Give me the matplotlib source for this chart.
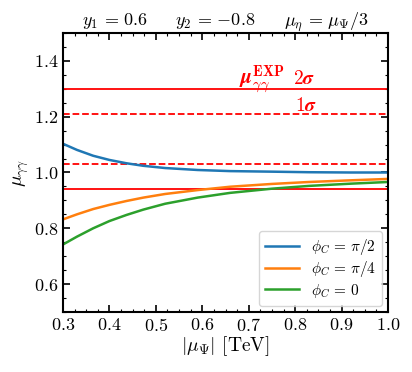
import numpy as np
import matplotlib
matplotlib.use("Agg")
import matplotlib.pyplot as plt
from matplotlib.ticker import MultipleLocator

plt.rcParams['font.family'] = 'serif'
plt.rcParams['font.serif'] = ['cmr10']
plt.rcParams['mathtext.fontset'] = 'cm'
plt.rcParams['axes.formatter.use_mathtext'] = True

# values
mu_psi = [0.30, 0.33, 0.365, 0.40, 0.437, 0.473, 0.52, 0.59, 0.66, 0.75, 0.83, 0.92, 1.00]
blue = [1.103, 1.081, 1.060, 1.045, 1.033, 1.024, 1.016, 1.009, 1.005, 1.003, 1.001, 1.000, 1.000]
orange = [0.832, 0.850, 0.869, 0.884, 0.898, 0.910, 0.923, 0.937, 0.949, 0.959, 0.966, 0.972, 0.977]
green = [0.742, 0.770, 0.800, 0.826, 0.848, 0.867, 0.888, 0.910, 0.927, 0.942, 0.952, 0.960, 0.966]

exp_2sigma = [0.94, 1.30]
exp_1sigma = [1.03, 1.21]

labels = [r'$\phi_C\, =\, \pi/2$', r'$\phi_C\, =\, \pi/4$', r'$\phi_C\, =\, 0$']

fig = plt.figure(figsize=(4.12, 3.72), dpi=100)
ax = fig.add_axes([63/412, 1 - 312/372, 325/412, 279/372])

for v in exp_2sigma:
    ax.axhline(v, color='red', lw=1.3)
for v in exp_1sigma:
    ax.axhline(v, color='red', lw=1.3, ls='--')

ax.plot(mu_psi, blue, color='#1f77b4', lw=1.8, label=labels[0])
ax.plot(mu_psi, orange, color='#ff7f0e', lw=1.8, label=labels[1])
ax.plot(mu_psi, green, color='#2ca02c', lw=1.8, label=labels[2])

ax.text(0.68, 1.318, r'$\boldsymbol{\mu}_{\gamma\gamma}^{\mathbf{EXP}}$', color='red', fontsize=15)
ax.text(0.795, 1.318, r'$\mathbf{2}\boldsymbol{\sigma}$', color='red', fontsize=14)
ax.text(0.80, 1.222, r'$\mathbf{1}\boldsymbol{\sigma}$', color='red', fontsize=14)

ax.set_xlim(0.3, 1.0)
ax.set_ylim(0.5, 1.5)
ax.xaxis.set_major_locator(MultipleLocator(0.1))
ax.xaxis.set_minor_locator(MultipleLocator(0.025))
ax.yaxis.set_major_locator(MultipleLocator(0.2))
ax.yaxis.set_minor_locator(MultipleLocator(0.05))
ax.tick_params(which='both', direction='in', top=True, right=True, labelsize=13)
ax.tick_params(which='major', length=5, width=1.2)
ax.tick_params(which='minor', length=2.5, width=0.8)
for s in ax.spines.values():
    s.set_linewidth(1.5)

ax.set_xlabel(r'$|\mu_\Psi|$ [TeV]', fontsize=14, labelpad=0)
ax.set_ylabel(r'$\mu_{\gamma\gamma}$', fontsize=14, labelpad=2)

ax.text(0.16, 1.03, r'$y_1\, =\, 0.6$', transform=ax.transAxes, ha='center', va='baseline', fontsize=13)
ax.text(0.468, 1.03, r'$y_2\, =\, {-0.8}$', transform=ax.transAxes, ha='center', va='baseline', fontsize=13)
ax.text(0.812, 1.03, r'$\mu_\eta\, =\, \mu_\Psi/3$', transform=ax.transAxes, ha='center', va='baseline', fontsize=13)

ax.legend(loc='lower right', fontsize=11, framealpha=0.8, labelspacing=0.15,
          borderaxespad=0.4, handlelength=2.2)

fig.savefig('out.png', dpi=100)
